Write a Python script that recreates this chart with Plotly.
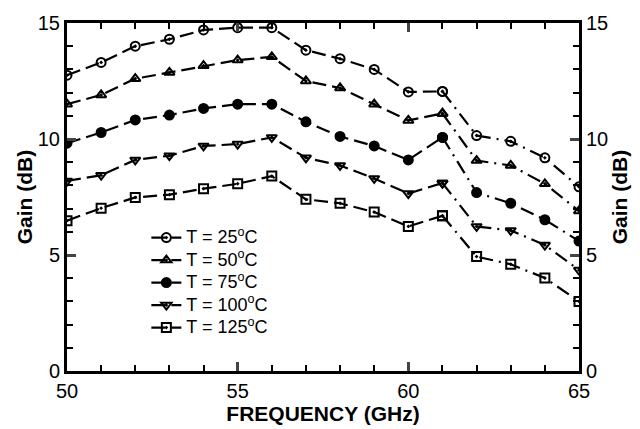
import plotly.graph_objects as go

freq = [50, 51, 52, 53, 54, 55, 56, 57, 58, 59, 60, 61, 62, 63, 64, 65]
gain_25 = [12.75, 13.3, 14.0, 14.3, 14.7, 14.8, 14.8, 13.83, 13.46, 13.0, 12.03, 12.05, 10.15, 9.9, 9.19, 7.94]
gain_50 = [11.5, 11.9, 12.6, 12.87, 13.16, 13.4, 13.54, 12.5, 12.2, 11.5, 10.8, 11.1, 9.07, 8.86, 8.07, 6.9]
gain_75 = [9.82, 10.28, 10.82, 11.03, 11.32, 11.5, 11.5, 10.74, 10.11, 9.7, 9.1, 10.07, 7.69, 7.23, 6.52, 5.6]
gain_100 = [8.19, 8.44, 9.1, 9.28, 9.7, 9.78, 10.07, 9.19, 8.86, 8.3, 7.65, 8.1, 6.23, 6.06, 5.43, 4.35]
gain_125 = [6.48, 7.02, 7.48, 7.6, 7.86, 8.07, 8.4, 7.4, 7.23, 6.85, 6.23, 6.69, 4.93, 4.6, 4.01, 3.0]

names = ["T = 25<sup>o</sup>C", "T = 50<sup>o</sup>C", "T = 75<sup>o</sup>C",
         "T = 100<sup>o</sup>C", "T = 125<sup>o</sup>C"]
symbols = ["circle-open-dot", "triangle-up-open-dot", "circle",
           "triangle-down-open-dot", "square-open-dot"]
series = [gain_25, gain_50, gain_75, gain_100, gain_125]
split = 11  # index of 61 GHz, where line style changes

fig = go.Figure()
for name, sym, g in zip(names, symbols, series):
    mk = dict(symbol=sym, size=9, color="black", line=dict(color="black", width=2))
    label = '<span style="font-size:18px">' + name + '</span>'
    fig.add_trace(go.Scatter(
        x=freq[:split + 1], y=g[:split + 1], name=label, mode="lines+markers",
        line=dict(color="black", width=2.2, dash="14px,6px"),
        marker=mk, legendgroup=name, showlegend=True))
    fig.add_trace(go.Scatter(
        x=freq[split:], y=g[split:], name=label, mode="lines+markers",
        line=dict(color="black", width=2.2, dash="14px,6px,2px,6px"),
        marker=mk, legendgroup=name, showlegend=False))

fig.add_trace(go.Scatter(x=[None], y=[None], yaxis="y2", showlegend=False))

fam = "Liberation Sans, Arial, Helvetica, sans-serif"
tick_font = dict(family=fam, size=20, color="black")
title_font = dict(family=fam, size=21, color="black")
minor = dict(dtick=1, ticks="inside", ticklen=6, tickwidth=2, tickcolor="black")
fig.update_layout(
    width=640, height=429,
    margin=dict(l=67, r=61, t=18, b=52),
    plot_bgcolor="white", paper_bgcolor="white",
    font=dict(family=fam, size=17, color="black"),
    showlegend=True,
    legend=dict(x=0.155, y=0.43, xanchor="left", yanchor="top",
                bgcolor="rgba(0,0,0,0)", font=dict(family=fam, size=15, color="black"),
                tracegroupgap=0, itemwidth=30),
    xaxis=dict(range=[50, 65], tickvals=[50, 55, 60, 65], ticks="inside", ticklen=9,
               tickwidth=2.5, showline=True, linewidth=3, linecolor="black",
               mirror="ticks", showgrid=False, zeroline=False, minor=minor,
               title=dict(text="<b>FREQUENCY (GHz)</b>", font=title_font, standoff=0),
               tickfont=tick_font),
    yaxis=dict(range=[0, 15], tickvals=[0, 5, 10, 15], ticks="inside", ticklen=9,
               tickwidth=2.5, showline=True, linewidth=3, linecolor="black",
               showgrid=False, zeroline=False, minor=minor,
               title=dict(text="<b>Gain (dB)</b>", font=title_font, standoff=0),
               tickfont=tick_font),
    yaxis2=dict(range=[0, 15], tickvals=[0, 5, 10, 15], ticks="inside", ticklen=9,
                tickwidth=2.5, showline=True, linewidth=3, linecolor="black",
                overlaying="y", side="right", showgrid=False, zeroline=False, minor=minor,
                title=dict(text="<b>Gain (dB)</b>", font=title_font, standoff=0),
                tickfont=tick_font),
)

fig.write_html("out.html")
